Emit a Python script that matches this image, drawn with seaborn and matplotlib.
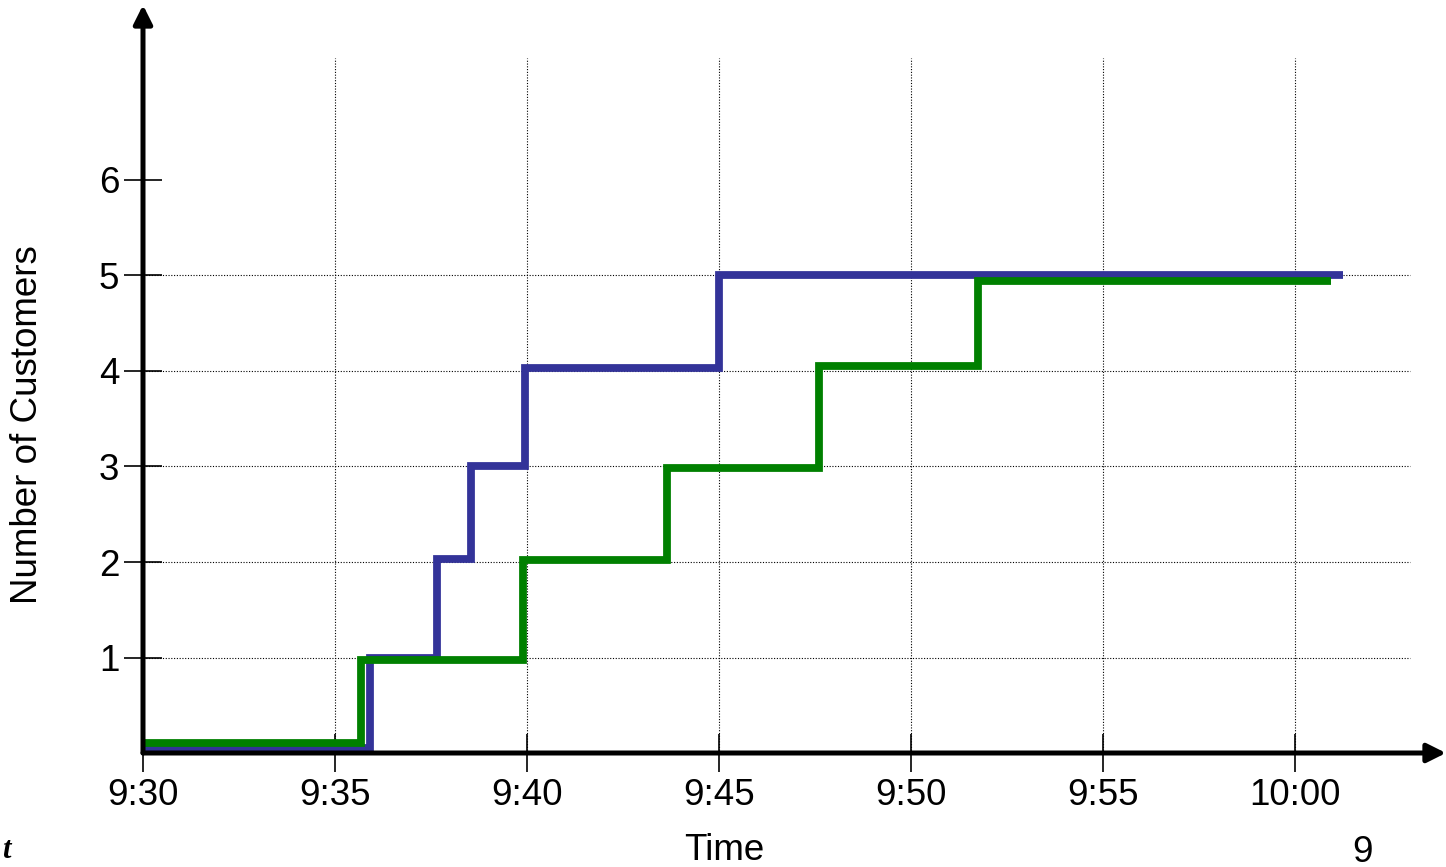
import numpy as np
import pandas as pd
import seaborn as sns
import matplotlib.pyplot as plt

# minutes after 9:30 where the count changes, and the count from then on
arr_time = [0, 5.9, 7.65, 8.55, 9.95, 15.0, 31.25]
arr_count = [0.05, 1.0, 2.03, 3.01, 4.03, 5.0, 5.0]
dep_time = [0, 5.68, 9.9, 13.65, 17.6, 21.75, 30.95]
dep_count = [0.1, 0.97, 2.02, 2.98, 4.05, 4.94, 4.94]

tick_min = [0, 5, 10, 15, 20, 25, 30]
tick_lbl = ['9:30', '9:35', '9:40', '9:45', '9:50', '9:55', '10:00']
y_ticks = [1, 2, 3, 4, 5, 6]

df = pd.concat([
    pd.DataFrame({'t': arr_time, 'n': arr_count, 'series': 'Arrivals'}),
    pd.DataFrame({'t': dep_time, 'n': dep_count, 'series': 'Departures'}),
])

sns.set_style('white')
plt.rcParams['font.family'] = ['Liberation Sans', 'DejaVu Sans']
plt.rcParams['text.color'] = 'black'
plt.rcParams['xtick.labelcolor'] = 'black'
plt.rcParams['ytick.labelcolor'] = 'black'

fig = plt.figure(figsize=(14.46, 8.67), dpi=100)
ax = fig.add_axes([143 / 1446, 114 / 867, 1303 / 1446, 748 / 867])
ax.set_xlim(0, 1303 / 38.4)
ax.set_ylim(0, 748 / 95.5)

# dotted grid, stopping short of the arrows like the original
ax.vlines(tick_min[1:], 0, 7.28, colors='black', linestyles=(0, (1, 1.5)), lw=0.8, zorder=1)
ax.hlines(y_ticks[:-1], 0, 33.0, colors='black', linestyles=(0, (1, 1.5)), lw=0.8, zorder=1)

sns.lineplot(data=df, x='t', y='n', hue='series',
             palette={'Arrivals': '#333399', 'Departures': '#008000'},
             hue_order=['Arrivals', 'Departures'],
             drawstyle='steps-post', lw=5.6, legend=False, ax=ax,
             solid_joinstyle='miter', solid_capstyle='butt', zorder=3)

for s in ax.spines.values():
    s.set_visible(False)

# axis arrows
ax.annotate('', xy=(1.0, 0), xytext=(0, 0), xycoords='axes fraction',
            arrowprops=dict(arrowstyle='-|>', lw=3.6, color='black',
                            mutation_scale=28, shrinkA=0, shrinkB=0),
            annotation_clip=False, zorder=5)
ax.annotate('', xy=(0, 1.0), xytext=(0, 0), xycoords='axes fraction',
            arrowprops=dict(arrowstyle='-|>', lw=3.6, color='black',
                            mutation_scale=28, shrinkA=0, shrinkB=0),
            annotation_clip=False, zorder=5)

ax.set_xticks(tick_min)
ax.set_xticklabels(tick_lbl)
ax.set_yticks(y_ticks)
ax.set_yticklabels([str(v) for v in y_ticks])
ax.tick_params(axis='x', direction='inout', length=28, width=1.2, pad=4,
               labelsize=26.5, bottom=True, color='black')
ax.tick_params(axis='y', direction='inout', length=28, width=1.2, pad=3,
               labelsize=26.5, left=True, color='black')
ax.set_xlabel('')
ax.set_ylabel('')

fig.text(28 / 1446, 1 - 425 / 867, 'Number of Customers', rotation=90,
         ha='center', va='center', fontsize=26.5)
fig.text(724 / 1446, 1 - 850 / 867, 'Time', ha='center', va='center', fontsize=26.5)
fig.text(1362 / 1446, 1 - 852 / 867, '9', ha='center', va='center', fontsize=26.5)
fig.text(2 / 1446, 1 - 850 / 867, 't', ha='left', va='center', fontsize=22,
         family='Liberation Serif', style='italic', weight='bold')

fig.savefig('out.png', dpi=100)
